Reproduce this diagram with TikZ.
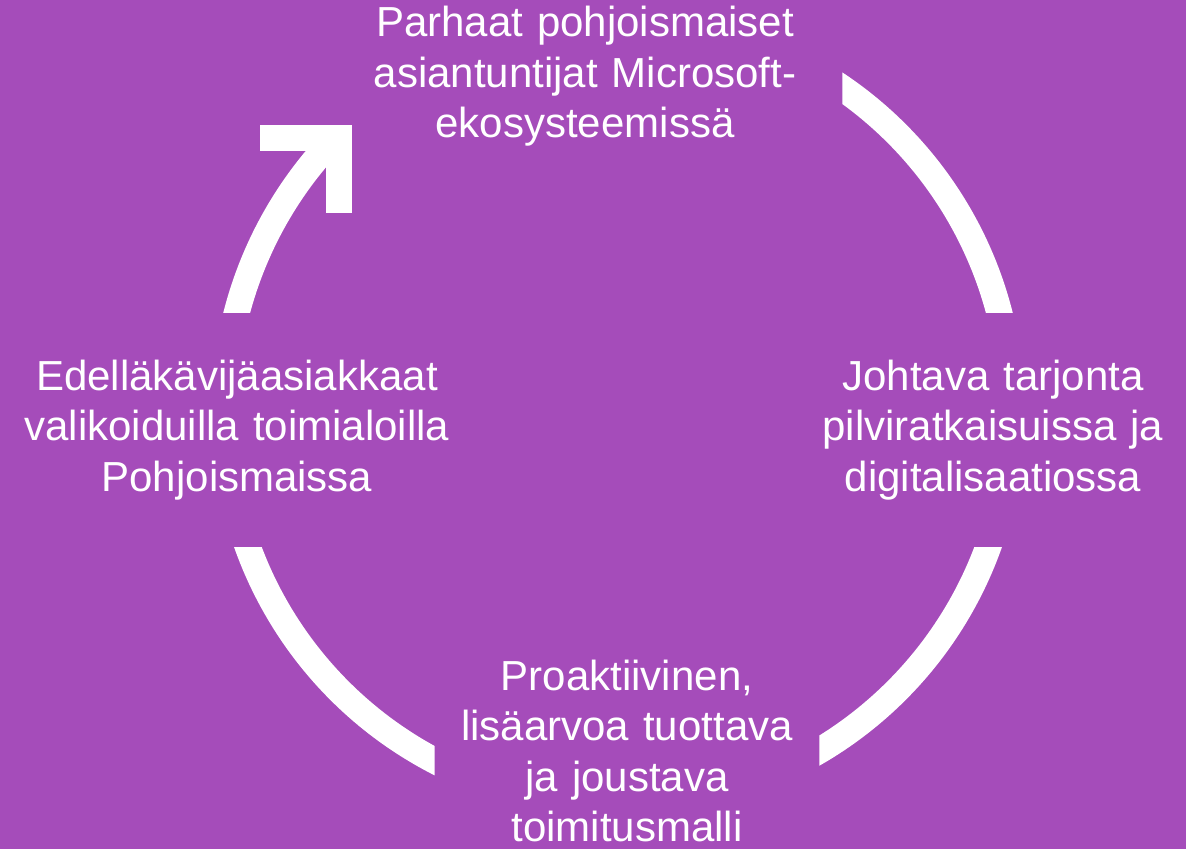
\documentclass[tikz,border=0pt]{standalone}
\usepackage{fontspec}
\setmainfont{Liberation Sans}
\usetikzlibrary{calc}
\definecolor{cyclebg}{HTML}{A54CBA}

\begin{document}
\begin{tikzpicture}[x=0.5pt, y=-0.5pt,
  ring/.style={draw=white, line width=13pt},
  stage/.style={align=center, text=white, inner sep=0pt, font=\fontsize{21}{25.3}\selectfont}]
\useasboundingbox (0,0) rectangle (1186,849);
\fill[cyclebg] (0,0) rectangle (1186,849);
\coordinate (c) at (618,412);
\coordinate (NE) at (1186,0);
\coordinate (SW) at (0,849);
\coordinate (head) at (338.5,138.5);
% the four stages
\node[stage, text width=257pt] (experts) at (585,76.5) {Parhaat pohjoismaiset\\asiantuntijat Microsoft-\\ekosysteemissä};
\node[stage, text width=190pt, minimum height=117pt] (offering) at (993,430) {Johtava tarjonta\\pilviratkaisuissa ja\\digitalisaatiossa};
\node[stage, text width=192pt] (delivery) at (627,751) {Proaktiivinen,\\lisäarvoa tuottava\\ja joustava\\toimitusmalli};
\node[stage, text width=230pt, minimum height=117pt] (customers) at (237,430) {Edelläkävijäasiakkaat\\valikoiduilla toimialoilla\\Pohjoismaissa};
% ring pieces, cut where the stages sit
\begin{scope}
  \clip (experts.east |- NE) rectangle (NE |- offering.north);
  \draw[ring] (c) ++(-62:394) arc[start angle=-62, end angle=-8, radius=394];
\end{scope}
\begin{scope}
  \clip (delivery.east |- offering.south) rectangle (NE |- SW);
  \draw[ring] (c) ++(12:394) arc[start angle=12, end angle=68, radius=394];
\end{scope}
\begin{scope}
  \clip (SW) rectangle (delivery.west |- customers.south);
  \draw[ring] (c) ++(112:394) arc[start angle=112, end angle=168, radius=394];
\end{scope}
\begin{scope}
  \clip (SW |- NE) rectangle (c |- customers.north);
  \draw[ring] (c) ++(188:394) arc[start angle=188, end angle=224.4, radius=394];
\end{scope}
\draw[ring, line join=miter] (head) ++(-78.5,0) -- (head) -- ++(0,74.5);
\end{tikzpicture}
\end{document}
